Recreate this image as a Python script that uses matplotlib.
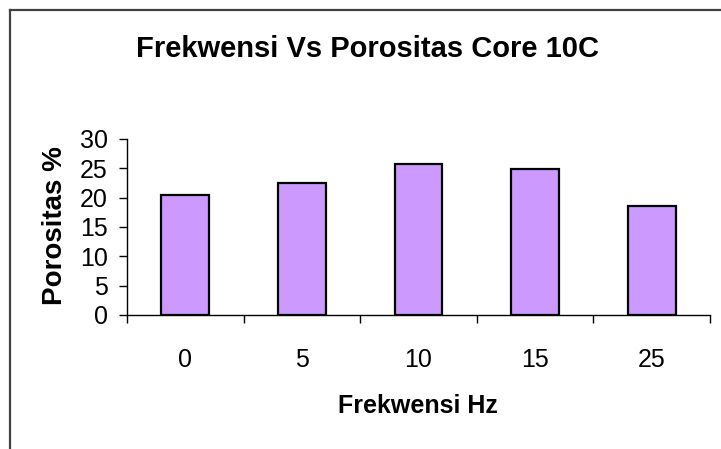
import numpy as np
import matplotlib
matplotlib.use("Agg")
import matplotlib.pyplot as plt
from matplotlib.lines import Line2D

# data
freq_labels = ["0", "5", "10", "15", "25"]
porositas = [20.4, 22.5, 25.8, 24.9, 18.5]
y_ticks = [0, 5, 10, 15, 20, 25, 30]

W, H = 721, 449
plt.rcParams['font.family'] = ['Liberation Sans', 'DejaVu Sans']

fig = plt.figure(figsize=(W / 100, H / 100), dpi=100)
fig.patch.set_facecolor("white")

# plot area in pixel coords: x 127..710, y 139..315
ax = fig.add_axes([127 / W, 1 - 315 / H, (710 - 127) / W, (315 - 139) / H])

x = np.arange(len(freq_labels))
ax.bar(x, porositas, width=0.41, color="#CC99FF", edgecolor="black", linewidth=1.6)

ax.set_xlim(-0.5, len(freq_labels) - 0.5)
ax.set_ylim(0, 30)

for side in ["top", "right"]:
    ax.spines[side].set_visible(False)
for side in ["left", "bottom"]:
    ax.spines[side].set_linewidth(1.0)
    ax.spines[side].set_color("black")

# y axis ticks
ax.set_yticks(y_ticks)
ax.tick_params(axis="y", direction="out", length=5.8, width=1.0, pad=7.9, labelsize=18)

# x axis: tick marks between categories, labels at bar centres
ax.set_xticks(np.arange(-0.5, len(freq_labels), 1.0))
ax.set_xticklabels([])
ax.set_xticks(x, minor=True)
ax.set_xticklabels(freq_labels, minor=True)
ax.tick_params(axis="x", which="major", direction="out", length=5.8, width=1.0)
ax.tick_params(axis="x", which="minor", length=0, pad=23.5, labelsize=18)

# titles / labels
fig.text(368 / W, 1 - 57 / H, "Frekwensi Vs Porositas Core 10C", ha="center", va="baseline",
         fontsize=21, fontweight="bold")
fig.text(418 / W, 1 - 413 / H, "Frekwensi Hz", ha="center", va="baseline",
         fontsize=18, fontweight="bold")
fig.text(55 / W, 1 - 226 / H, "Porositas %", ha="center", va="center", rotation=90,
         fontsize=20, fontweight="bold")

# chart area border (left and top edges visible)
fig.add_artist(Line2D([10 / W, 10 / W], [0, 1 - 10 / H], transform=fig.transFigure,
                      color="#404040", linewidth=1.6))
fig.add_artist(Line2D([10 / W, 1], [1 - 10 / H, 1 - 10 / H], transform=fig.transFigure,
                      color="#404040", linewidth=1.6))

fig.savefig("out.png", dpi=100)
